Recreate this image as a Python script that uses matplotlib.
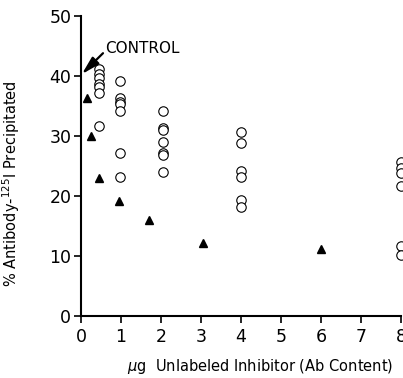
import numpy as np
import matplotlib
matplotlib.use("Agg")
import matplotlib.pyplot as plt

# inhibition with unlabeled antibody (filled triangles)
tri_x = [0.15, 0.25, 0.45, 0.95, 1.7, 3.05, 6.0]
tri_y = [36.3, 30.0, 23.0, 19.2, 16.0, 12.2, 11.1]

# other inhibitors (open circles), grouped by dose
circ_x = ([0.45] * 7 + [0.97] * 7 + [2.05] * 7 + [4.0] * 6 + [8.0] * 6)
circ_y = ([41.2, 40.3, 39.6, 38.6, 38.1, 37.1, 31.6] +
          [39.1, 36.3, 35.7, 35.4, 34.1, 27.1, 23.2] +
          [34.2, 31.3, 31.0, 29.0, 27.1, 26.8, 24.0] +
          [30.6, 28.9, 24.2, 23.1, 19.3, 18.2] +
          [25.7, 24.6, 23.8, 21.7, 11.7, 10.1])

xticks = [0, 1, 2, 3, 4, 5, 6, 7, 8]
yticks = [0, 10, 20, 30, 40, 50]

plt.rcParams['font.family'] = ['DejaVu Sans']
fig = plt.figure(figsize=(4.03, 3.78), dpi=100)
ax = fig.add_axes([81 / 403, 62 / 378, 320 / 403, 300 / 378])

ax.plot(circ_x, circ_y, 'o', mfc='white', mec='black', ms=6.8, mew=0.8,
        linestyle='none', clip_on=False, zorder=3)
ax.plot(tri_x, tri_y, '^', color='black', ms=6, linestyle='none',
        clip_on=False, zorder=4)

# control arrow
ax.annotate('', xy=(0.02, 40.3), xytext=(0.55, 43.8),
            arrowprops=dict(arrowstyle='-|>,head_length=0.6,head_width=0.16',
                            lw=1.6, color='black',
                            mutation_scale=18, shrinkA=0, shrinkB=0))
ax.text(0.6, 44.6, 'CONTROL', fontsize=11, va='center', ha='left')

ax.set_xlim(0, 8)
ax.set_ylim(0, 50)
ax.set_xticks(xticks)
ax.set_yticks(yticks)
ax.tick_params(axis='both', labelsize=12.5, direction='out', length=5,
               width=1.2)
ax.tick_params(axis='y', pad=2)
for s in ['top', 'right']:
    ax.spines[s].set_visible(False)
for s in ['left', 'bottom']:
    ax.spines[s].set_linewidth(1.5)

ax.set_xlabel(r'$\mu$g  Unlabeled Inhibitor (Ab Content)', fontsize=10.5)
ax.xaxis.set_label_coords(0.56, -0.135)
ax.set_ylabel(r'% Antibody-$^{125}$I Precipitated', fontsize=10.5)
ax.yaxis.set_label_coords(-0.185, 0.44)

fig.savefig('out.png', dpi=100)
